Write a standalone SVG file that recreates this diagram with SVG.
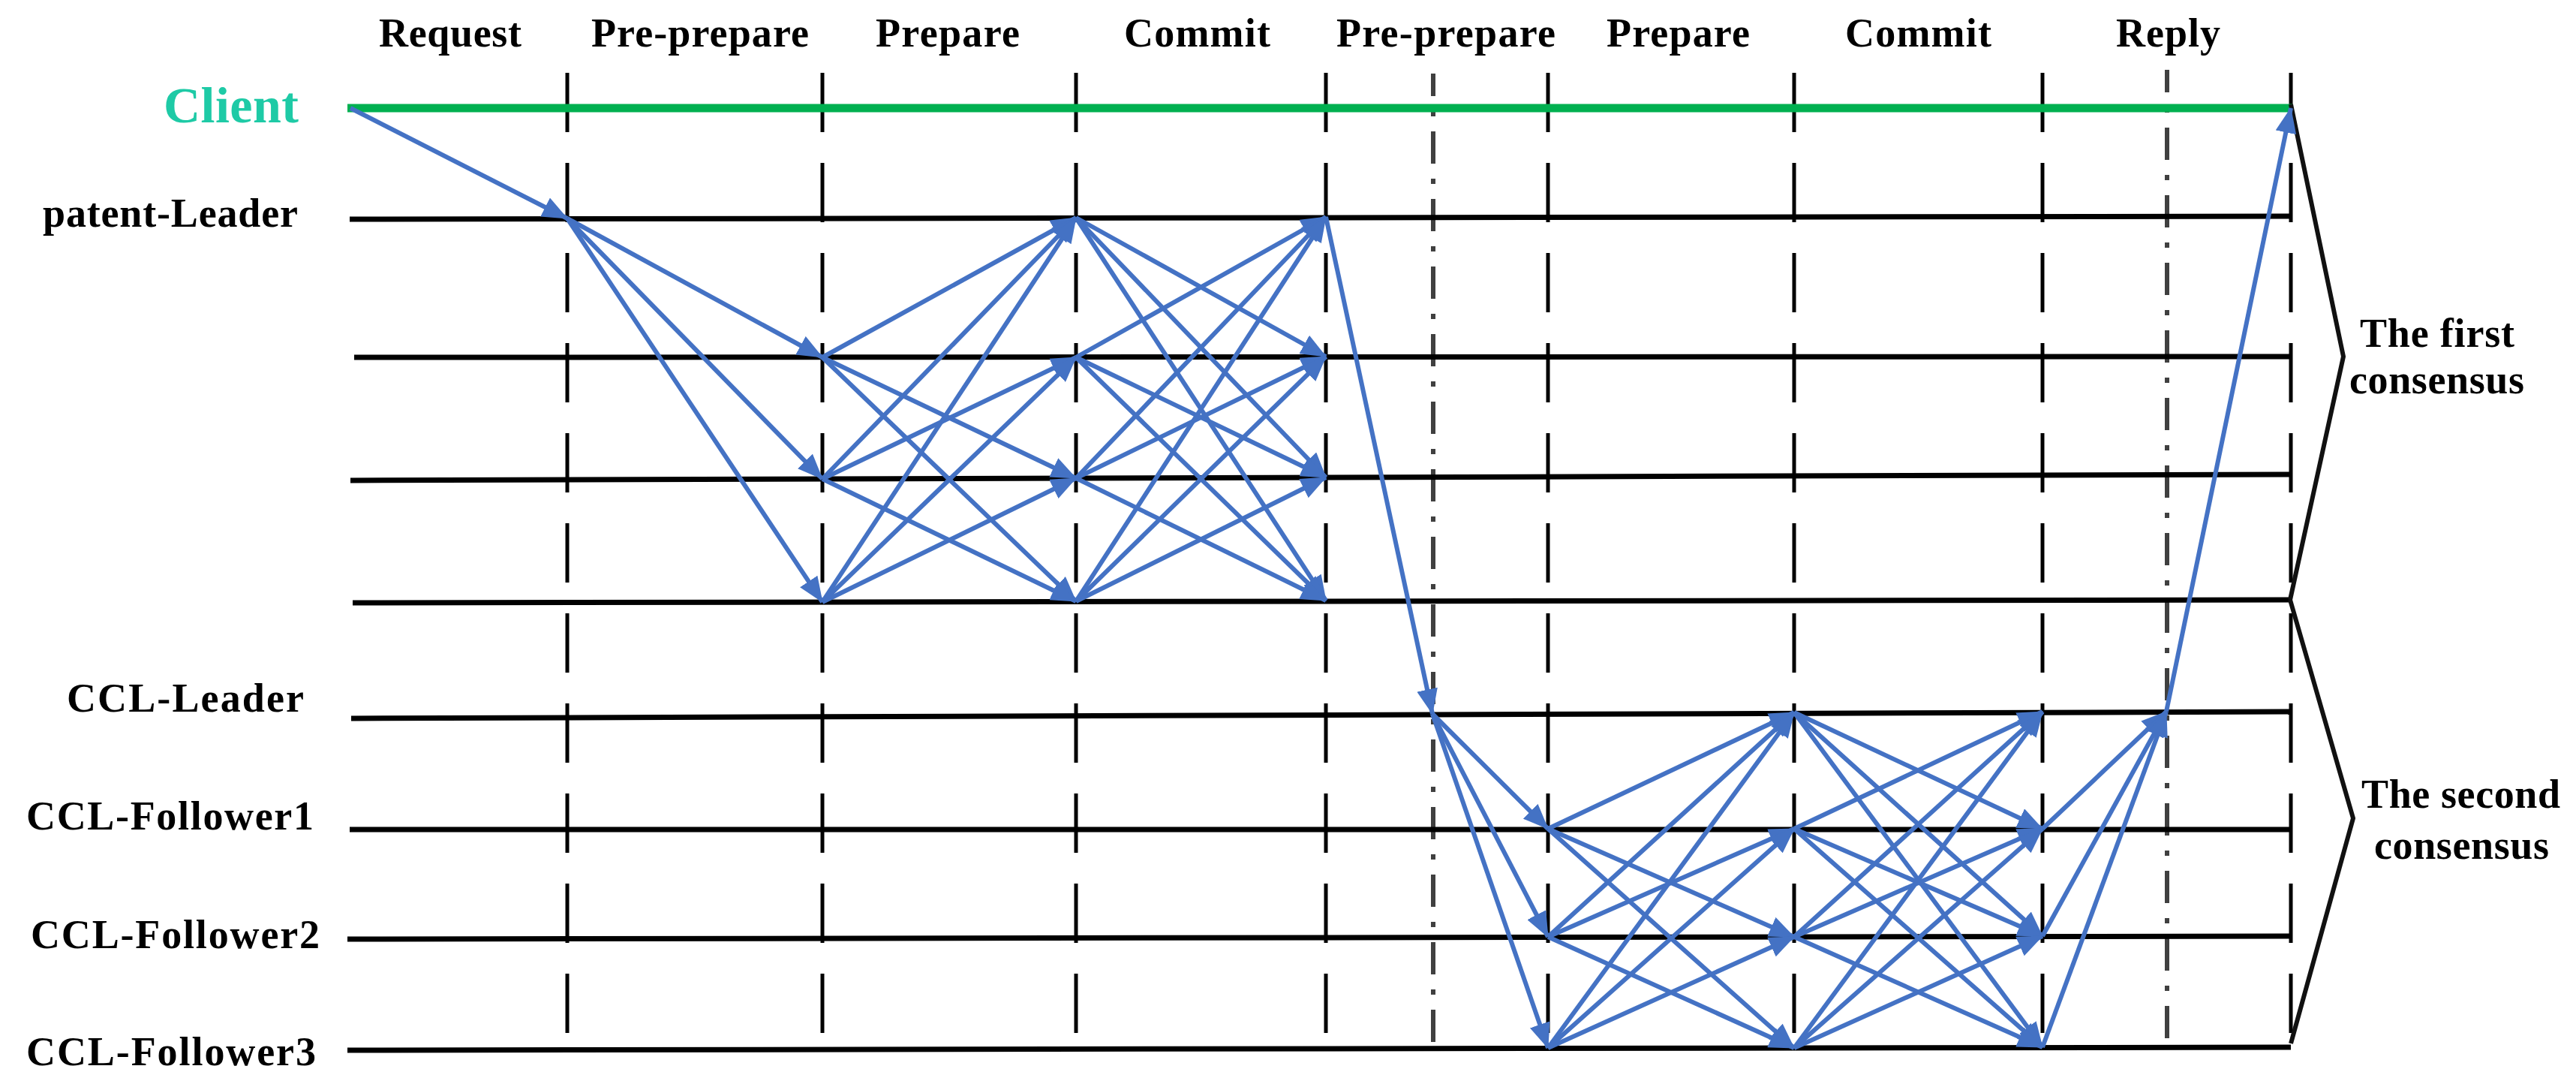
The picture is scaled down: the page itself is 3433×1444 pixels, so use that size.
<svg xmlns="http://www.w3.org/2000/svg" width="3433" height="1444" viewBox="0 0 3433 1444">
<style>
.lbl{font-family:"Liberation Serif","Times New Roman",serif;font-weight:bold;font-size:54px;fill:#000}
.hdr{font-family:"Liberation Serif","Times New Roman",serif;font-weight:bold;font-size:54px;fill:#000}
.life{stroke:#000;stroke-width:7;fill:none}
.dash{stroke:#000;stroke-width:5;stroke-dasharray:79 41;fill:none}
.dashdot{stroke:#404040;stroke-width:6;stroke-dasharray:43 20 7 20;stroke-dashoffset:13;fill:none}
.arr{stroke:#4472C4;stroke-width:6;fill:none;marker-end:url(#ah)}
.brace{stroke:#111;stroke-width:6;fill:none;stroke-linejoin:miter}
</style>
<defs>
<marker id="ah" markerUnits="userSpaceOnUse" markerWidth="34" markerHeight="28" viewBox="0 0 34 28" refX="33" refY="14" orient="auto">
<path d="M0,0 L34,14 L0,28 Z" fill="#4472C4"/>
</marker>
</defs>
<rect width="3433" height="1444" fill="#fff"/>

<g id="phase-headers">
<text class="hdr" x="505" y="62" textLength="190">Request</text>
<text class="hdr" x="788" y="62" textLength="290">Pre-prepare</text>
<text class="hdr" x="1167" y="62" textLength="192">Prepare</text>
<text class="hdr" x="1498" y="62" textLength="195">Commit</text>
<text class="hdr" x="1781" y="62" textLength="292">Pre-prepare</text>
<text class="hdr" x="2141" y="62" textLength="191">Prepare</text>
<text class="hdr" x="2459" y="62" textLength="195">Commit</text>
<text class="hdr" x="2820" y="62" textLength="139">Reply</text>
</g>

<g id="phase-dividers">
<line class="dash" x1="756" y1="97" x2="756" y2="1376"/>
<line class="dash" x1="1096" y1="97" x2="1096" y2="1376"/>
<line class="dash" x1="1434" y1="97" x2="1434" y2="1376"/>
<line class="dash" x1="1767" y1="97" x2="1767" y2="1376"/>
<line class="dash" x1="2063" y1="97" x2="2063" y2="1376"/>
<line class="dash" x1="2391" y1="97" x2="2391" y2="1376"/>
<line class="dash" x1="2722" y1="97" x2="2722" y2="1376"/>
<line class="dash" x1="3053" y1="97" x2="3053" y2="1376"/>
<line class="dashdot" x1="1910" y1="98" x2="1910" y2="1388"/>
<line class="dashdot" x1="2888" y1="93" x2="2888" y2="1383"/>
</g>

<g id="client">
<line x1="463" y1="144" x2="3055" y2="144" stroke="#00B050" stroke-width="11"/>
<text x="218" y="163" font-family="'Liberation Serif','Times New Roman',serif" font-weight="bold" font-size="68" fill="#1ECAA6" textLength="180">Client</text>
</g>
<g id="patent-leader">
<line class="life" x1="466" y1="292" x2="3053" y2="288"/>
<text class="lbl" x="57" y="302" textLength="340">patent-Leader</text>
</g>
<g id="patent-replica1"><line class="life" x1="472" y1="476" x2="3053" y2="475"/></g>
<g id="patent-replica2"><line class="life" x1="467" y1="640" x2="3053" y2="632"/></g>
<g id="patent-replica3"><line class="life" x1="470" y1="803" x2="3053" y2="799"/></g>
<g id="ccl-leader">
<line class="life" x1="468" y1="957" x2="3053" y2="948"/>
<text class="lbl" x="89" y="948" textLength="316">CCL-Leader</text>
</g>
<g id="ccl-follower1">
<line class="life" x1="466" y1="1105" x2="3053" y2="1105"/>
<text class="lbl" x="35" y="1105" textLength="383">CCL-Follower1</text>
</g>
<g id="ccl-follower2">
<line class="life" x1="463" y1="1251" x2="3053" y2="1247"/>
<text class="lbl" x="41" y="1263" textLength="385">CCL-Follower2</text>
</g>
<g id="ccl-follower3">
<line class="life" x1="463" y1="1399" x2="3053" y2="1395"/>
<text class="lbl" x="35" y="1419" textLength="386">CCL-Follower3</text>
</g>

<g id="first-consensus">
<polyline class="brace" points="3053,139 3123,475 3052,799"/>
<text class="lbl" x="3145" y="462" textLength="206">The first</text>
<text class="lbl" x="3131" y="524" textLength="233">consensus</text>
</g>
<g id="second-consensus">
<polyline class="brace" points="3052,799 3136,1090 3053,1390"/>
<text class="lbl" x="3147" y="1076" textLength="265">The second</text>
<text class="lbl" x="3164" y="1144" textLength="233">consensus</text>
</g>

<g id="connectors">
<line class="arr" x1="467" y1="144" x2="756" y2="291"/>
<line class="arr" x1="756" y1="291" x2="1096" y2="476"/>
<line class="arr" x1="756" y1="291" x2="1096" y2="638"/>
<line class="arr" x1="756" y1="291" x2="1096" y2="802"/>
<line class="arr" x1="1096" y1="476" x2="1434" y2="290"/>
<line class="arr" x1="1096" y1="476" x2="1434" y2="637"/>
<line class="arr" x1="1096" y1="476" x2="1434" y2="801"/>
<line class="arr" x1="1096" y1="638" x2="1434" y2="290"/>
<line class="arr" x1="1096" y1="638" x2="1434" y2="476"/>
<line class="arr" x1="1096" y1="638" x2="1434" y2="801"/>
<line class="arr" x1="1096" y1="802" x2="1434" y2="290"/>
<line class="arr" x1="1096" y1="802" x2="1434" y2="476"/>
<line class="arr" x1="1096" y1="802" x2="1434" y2="637"/>
<line class="arr" x1="1434" y1="290" x2="1767" y2="475"/>
<line class="arr" x1="1434" y1="290" x2="1767" y2="636"/>
<line class="arr" x1="1434" y1="290" x2="1767" y2="800"/>
<line class="arr" x1="1434" y1="476" x2="1767" y2="289"/>
<line class="arr" x1="1434" y1="476" x2="1767" y2="636"/>
<line class="arr" x1="1434" y1="476" x2="1767" y2="800"/>
<line class="arr" x1="1434" y1="637" x2="1767" y2="289"/>
<line class="arr" x1="1434" y1="637" x2="1767" y2="475"/>
<line class="arr" x1="1434" y1="637" x2="1767" y2="800"/>
<line class="arr" x1="1434" y1="801" x2="1767" y2="289"/>
<line class="arr" x1="1434" y1="801" x2="1767" y2="475"/>
<line class="arr" x1="1434" y1="801" x2="1767" y2="636"/>
<line class="arr" x1="1767" y1="289" x2="1909" y2="951"/>
<line class="arr" x1="1909" y1="951" x2="2063" y2="1104"/>
<line class="arr" x1="1909" y1="951" x2="2063" y2="1248"/>
<line class="arr" x1="1909" y1="951" x2="2063" y2="1396"/>
<line class="arr" x1="2063" y1="1104" x2="2391" y2="949"/>
<line class="arr" x1="2063" y1="1104" x2="2391" y2="1248"/>
<line class="arr" x1="2063" y1="1104" x2="2391" y2="1396"/>
<line class="arr" x1="2063" y1="1248" x2="2391" y2="949"/>
<line class="arr" x1="2063" y1="1248" x2="2391" y2="1104"/>
<line class="arr" x1="2063" y1="1248" x2="2391" y2="1396"/>
<line class="arr" x1="2063" y1="1396" x2="2391" y2="949"/>
<line class="arr" x1="2063" y1="1396" x2="2391" y2="1104"/>
<line class="arr" x1="2063" y1="1396" x2="2391" y2="1248"/>
<line class="arr" x1="2391" y1="949" x2="2722" y2="1104"/>
<line class="arr" x1="2391" y1="949" x2="2722" y2="1247"/>
<line class="arr" x1="2391" y1="949" x2="2722" y2="1395"/>
<line class="arr" x1="2391" y1="1104" x2="2722" y2="948"/>
<line class="arr" x1="2391" y1="1104" x2="2722" y2="1247"/>
<line class="arr" x1="2391" y1="1104" x2="2722" y2="1395"/>
<line class="arr" x1="2391" y1="1248" x2="2722" y2="948"/>
<line class="arr" x1="2391" y1="1248" x2="2722" y2="1104"/>
<line class="arr" x1="2391" y1="1248" x2="2722" y2="1395"/>
<line class="arr" x1="2391" y1="1396" x2="2722" y2="948"/>
<line class="arr" x1="2391" y1="1396" x2="2722" y2="1104"/>
<line class="arr" x1="2391" y1="1396" x2="2722" y2="1247"/>
<line class="arr" x1="2722" y1="1104" x2="2887" y2="948"/>
<line class="arr" x1="2722" y1="1247" x2="2887" y2="948"/>
<line class="arr" x1="2722" y1="1395" x2="2887" y2="948"/>
<line class="arr" x1="2887" y1="948" x2="3053" y2="144"/>
</g>
</svg>
